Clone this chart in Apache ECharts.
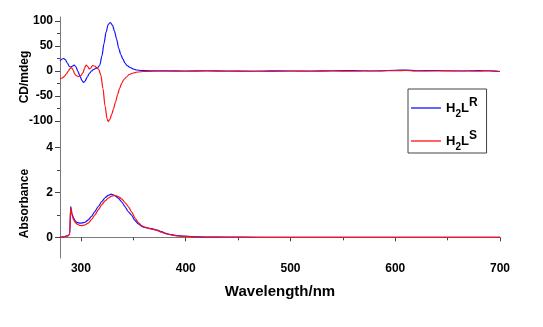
<!DOCTYPE html>
<html>
<head>
<meta charset="utf-8">
<script src="https://cdn.jsdelivr.net/npm/echarts@6/dist/echarts.min.js"></script>
<style>html,body{margin:0;padding:0;background:#fff}#c{width:543px;height:327px}</style>
</head>
<body>
<div id="c"></div>
<script>
// CD spectra [wavelength nm, mdeg]
const cdR = [[280,20],[282,24],[283.5,25],[285,23],[287,16],[289,9],[290.5,8],[292,10],[293.5,12],[295,9],[297,0],[299,-10],[301,-19],[302.5,-23],[304,-20],[306,-12],[308,-5],[310,0],[312,3],[314,5],[316,7],[318,12],[320,30],[322,55],[324,78],[326,93],[328,97],[330,92],[332,80],[334,64],[336,46],[338,33],[340,24],[342,16],[344,11],[347,7],[350,4],[353,2],[358,1],[365,0.5],[380,0.5],[400,0],[420,0.5],[440,0],[460,-0.5],[480,0.5],[500,0],[520,0],[540,0.5],[560,1],[580,0],[600,1.5],[610,2],[620,0.5],[640,1],[660,0],[680,1],[690,0],[700,-1]];
const cdS = [[280,-16],[282,-14],[284,-11],[286,-6],[288,0],[289.5,5],[291,7],[292.5,2],[294,-6],[296,-10],[298,-11],[300,-9],[302,-3],[303.5,6],[305,12],[306.5,9],[308,4],[309.5,6],[311,11],[313,10],[315,7],[317,3],[319,-8],[321,-35],[323,-70],[325,-96],[326,-101],[327.5,-97],[329.5,-86],[331,-76],[333,-62],[335,-47],[337,-34],[339,-24],[341,-17],[343.5,-12],[346,-7],[350,-4],[354,-2],[360,-1],[370,-0.5],[380,-0.5],[400,-0.5],[420,0],[440,-0.5],[460,0],[480,-1],[500,0],[520,-0.5],[540,0],[560,-0.5],[580,0.5],[600,0.5],[610,1],[620,0],[640,0],[660,0.5],[680,-0.5],[690,1],[700,-1]];
// Absorbance spectra [wavelength nm, A]
const absR = [[280,0],[283,0.02],[286,0.05],[288,0.08],[289.3,0.15],[290.2,1.37],[291.5,1.05],[293,0.85],[295,0.7],[297,0.65],[299,0.63],[301,0.64],[304,0.67],[307,0.78],[310,0.93],[313,1.13],[316.5,1.37],[320,1.6],[323,1.76],[326,1.87],[328.7,1.92],[331,1.89],[333,1.83],[335.7,1.74],[339,1.57],[342,1.37],[345,1.15],[348.5,0.98],[351,0.78],[354.8,0.6],[358,0.49],[361,0.44],[365,0.4],[369,0.37],[373,0.32],[377,0.25],[381,0.18],[386,0.12],[391,0.08],[398,0.05],[407,0.03],[420,0.01],[440,0.01],[470,0],[550,0],[620,0],[700,0]];
const absS = [[280,0],[283,0.02],[286,0.05],[288,0.08],[289.3,0.15],[290.2,1.33],[291.5,0.98],[293,0.78],[295,0.64],[297,0.57],[299,0.53],[300.6,0.52],[303,0.54],[307,0.63],[310,0.79],[313.4,1.0],[316.5,1.22],[319.7,1.44],[323,1.62],[326,1.74],[329,1.83],[331.8,1.86],[334,1.84],[336.5,1.79],[338.8,1.71],[342,1.55],[345.2,1.37],[348.5,1.12],[351.6,0.86],[354.8,0.66],[357.9,0.52],[361,0.45],[365,0.4],[369,0.35],[373,0.3],[377,0.23],[381,0.16],[386,0.11],[391,0.07],[398,0.04],[407,0.02],[420,0.01],[440,0],[550,0],[620,0],[700,0]];

const xTicks = [300,400,500,600,700];
const xMinor = [350,450,550,650];
const cdTicks = [-100,-50,0,50,100];
const cdMinor = [-75,-25,25,75];
const absTicks = [0,2,4];
const absMinor = [1,3];
const seriesNames = ['H2LR','H2LS'];
const legendLabels = {'H2LR':'{h|H}{sub|2}{h|L}{sup|R}','H2LS':'{h|H}{sub|2}{h|L}{sup|S}'};

const FONT = 'Liberation Sans, Arial, sans-serif';
const BLUE = '#1010ff', RED = '#ff1010';
const labelStyle = {color:'#000', fontWeight:'bold', fontSize:12, fontFamily:FONT};
const axisLineStyle = {color:'#7a7a7a', width:1};
const tickStyle = {color:'#444', width:1};

const chart = echarts.init(document.getElementById('c'), null, {renderer:'canvas'});
chart.setOption({
  animation:false,
  backgroundColor:'#fff',
  grid:[
    {left:60, right:43, top:17, height:112},
    {left:60, right:43, top:129, height:129}
  ],
  legend:{
    data:seriesNames, orient:'vertical', left:408, top:89,
    padding:[8,9,1,3], itemGap:11, itemWidth:30, itemHeight:1.3, icon:'rect',
    borderColor:'#444', borderWidth:1,
    formatter:n=>legendLabels[n],
    textStyle:{
      rich:{
        h:{fontSize:13, fontWeight:'bold', fontFamily:FONT, color:'#000', lineHeight:22},
        sub:{fontSize:10, fontWeight:'bold', fontFamily:FONT, color:'#000', lineHeight:10, verticalAlign:'bottom'},
        sup:{fontSize:12, fontWeight:'bold', fontFamily:FONT, color:'#000', lineHeight:10, verticalAlign:'top'}
      }
    }
  },
  xAxis:[
    {gridIndex:0, type:'value', min:280, max:700, show:false},
    {gridIndex:1, type:'value', min:280, max:700, position:'bottom',
      axisLine:{lineStyle:axisLineStyle},
      axisTick:{customValues:xTicks, length:4, lineStyle:tickStyle},
      axisLabel:Object.assign({customValues:xTicks, margin:5}, labelStyle),
      splitLine:{show:false},
      name:'Wavelength/nm', nameLocation:'middle', nameGap:26, nameMoveOverlap:false,
      nameTextStyle:{color:'#000', fontWeight:'bold', fontSize:15, fontFamily:FONT}},
    {gridIndex:1, type:'value', min:280, max:700, position:'bottom',
      axisLine:{show:false},
      axisTick:{customValues:xMinor, length:3, lineStyle:tickStyle},
      axisLabel:{show:false}, splitLine:{show:false}}
  ],
  yAxis:[
    {gridIndex:0, type:'value', min:-116, max:108, position:'left',
      axisLine:{show:true, lineStyle:axisLineStyle},
      axisTick:{show:true, customValues:cdTicks, length:5, lineStyle:tickStyle},
      axisLabel:Object.assign({customValues:cdTicks, margin:7}, labelStyle),
      splitLine:{show:false},
      name:'CD/mdeg', nameLocation:'middle', nameGap:29, nameMoveOverlap:false,
      nameTextStyle:{color:'#000', fontWeight:'bold', fontSize:12, fontFamily:FONT, padding:[0,8,0,0]}},
    {gridIndex:0, type:'value', min:-116, max:108, position:'left',
      axisLine:{show:false},
      axisTick:{show:true, customValues:cdMinor, length:3, lineStyle:tickStyle},
      axisLabel:{show:false}, splitLine:{show:false}},
    {gridIndex:1, type:'value', min:-0.92, max:4.82, position:'left',
      axisLine:{show:true, lineStyle:axisLineStyle},
      axisTick:{show:true, customValues:absTicks, length:5, lineStyle:tickStyle},
      axisLabel:Object.assign({customValues:absTicks, margin:7}, labelStyle),
      splitLine:{show:false},
      name:'Absorbance', nameLocation:'middle', nameGap:29, nameMoveOverlap:false,
      nameTextStyle:{color:'#000', fontWeight:'bold', fontSize:12, fontFamily:FONT, padding:[0,20,0,0]}},
    {gridIndex:1, type:'value', min:-0.92, max:4.82, position:'left',
      axisLine:{show:false},
      axisTick:{show:true, customValues:absMinor, length:3, lineStyle:tickStyle},
      axisLabel:{show:false}, splitLine:{show:false}}
  ],
  series:[
    {type:'line', name:seriesNames[0], xAxisIndex:0, yAxisIndex:0, data:cdR, symbol:'none', smooth:0.3, smoothMonotone:'x', lineStyle:{color:BLUE, width:1.2}, itemStyle:{color:BLUE}},
    {type:'line', name:seriesNames[1], xAxisIndex:0, yAxisIndex:0, data:cdS, symbol:'none', smooth:0.3, smoothMonotone:'x', lineStyle:{color:RED, width:1.2}, itemStyle:{color:RED}},
    {type:'line', name:seriesNames[0], xAxisIndex:1, yAxisIndex:2, data:absR, symbol:'none', smooth:0.2, smoothMonotone:'x', lineStyle:{color:BLUE, width:1.2}, itemStyle:{color:BLUE}},
    {type:'line', name:seriesNames[1], xAxisIndex:1, yAxisIndex:2, data:absS, symbol:'none', smooth:0.2, smoothMonotone:'x', lineStyle:{color:RED, width:1.2}, itemStyle:{color:RED}}
  ]
});
</script>
</body>
</html>
